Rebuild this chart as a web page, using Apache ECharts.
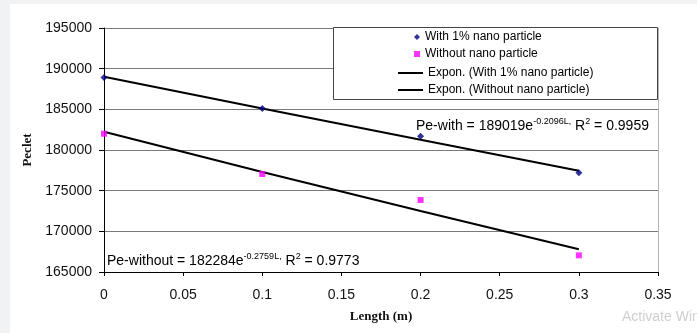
<!DOCTYPE html>
<html>
<head>
<meta charset="utf-8">
<script src="https://cdn.jsdelivr.net/npm/echarts@6/dist/echarts.min.js"></script>
<style>
  html, body { margin: 0; padding: 0; background: #f1f2f4; width: 697px; height: 333px; overflow: hidden; }
  #chart { position: absolute; left: 10px; top: 4px; width: 687px; height: 329px; background: #ffffff; }
</style>
</head>
<body>
<div id="chart"></div>
<script>
const lengths = [0, 0.1, 0.2, 0.3];
const withNano = [188900, 185100, 181700, 177200];
const withoutNano = [182000, 177050, 173850, 167050];
const trendWith = [189000, 185100, 181250, 177450];
const trendWithout = [182250, 177300, 172500, 167800];
const yTicks = { min: 165000, max: 195000, interval: 5000 };
const xTicks = { min: 0, max: 0.35, interval: 0.05 };
const seriesNames = ['With 1% nano particle', 'Without nano particle', 'Expon. (With 1% nano particle)', 'Expon. (Without nano particle)'];
const eqWith = 'Pe-with = 189019e';
const eqWithExp = '-0.2096L,';
const eqWithR = '0.9959';
const eqWithout = 'Pe-without = 182284e';
const eqWithoutExp = '-0.2759L,';
const eqWithoutR = '0.9773';

const pairs = (xs, ys) => xs.map((x, i) => [x, ys[i]]);
const sans = '"Liberation Sans", Arial, sans-serif';
const serif = '"Liberation Serif", "Times New Roman", serif';

const chart = echarts.init(document.getElementById('chart'), null, { renderer: 'canvas' });

function eqText(main, exp, r) {
  return '{n|' + main + '}{s|' + exp + '}{n| R}{s|2}{n| = ' + r + '}';
}
const richStyle = {
  n: { fontSize: 14, fontFamily: sans, color: '#000', lineHeight: 18 },
  s: { fontSize: 9, fontFamily: sans, color: '#000', lineHeight: 10, verticalAlign: 'top' }
};

chart.setOption({
  animation: false,
  backgroundColor: '#ffffff',
  grid: { left: 94, right: 39, top: 24, bottom: 61, containLabel: false },
  xAxis: {
    type: 'value',
    min: xTicks.min, max: xTicks.max, interval: xTicks.interval,
    name: 'Length (m)', nameLocation: 'middle', nameGap: 38,
    nameTextStyle: { fontFamily: serif, fontWeight: 'bold', fontSize: 13, color: '#111' },
    axisLine: { show: true, onZero: false, lineStyle: { color: '#000', width: 1 } },
    axisTick: { show: true, inside: false, length: 4, lineStyle: { color: '#000' } },
    axisLabel: { margin: 16, fontSize: 14, fontFamily: sans, color: '#111' },
    splitLine: { show: false }
  },
  yAxis: [{
    type: 'value',
    min: yTicks.min, max: yTicks.max, interval: yTicks.interval,
    name: 'Peclet', nameLocation: 'middle', nameGap: 63, nameRotate: 90,
    nameTextStyle: { fontFamily: serif, fontWeight: 'bold', fontSize: 13, color: '#111' },
    axisLine: { show: true, lineStyle: { color: '#000', width: 1 } },
    axisTick: { show: true, inside: false, length: 5, lineStyle: { color: '#000' } },
    axisLabel: { margin: 12, fontSize: 14, fontFamily: sans, color: '#111', formatter: v => String(v) },
    splitLine: { show: true, lineStyle: { color: '#7a7a7a', width: 1 } }
  }, {
    type: 'value', position: 'right',
    min: yTicks.min, max: yTicks.max, interval: yTicks.interval,
    axisLine: { show: true, lineStyle: { color: '#b5b5b5', width: 1 } },
    axisTick: { show: false }, axisLabel: { show: false }, splitLine: { show: false }
  }],
  legend: [{
    data: [{ name: seriesNames[0], icon: 'diamond' }, { name: seriesNames[1], icon: 'rect' }],
    orient: 'vertical', left: 404, top: 27, padding: 0,
    itemWidth: 6, itemHeight: 6, itemGap: 5, symbolKeepAspect: true,
    textStyle: { fontSize: 12, fontFamily: sans, color: '#000' },
    selectedMode: false
  }, {
    data: [{ name: seriesNames[2], icon: 'rect' }, { name: seriesNames[3], icon: 'rect' }],
    orient: 'vertical', left: 388, top: 63, padding: 0,
    itemWidth: 25, itemHeight: 2, itemGap: 5, symbolKeepAspect: false,
    textStyle: { fontSize: 12, fontFamily: sans, color: '#000' },
    selectedMode: false
  }],
  graphic: [
    { type: 'rect', z: 3, shape: { x: 323.5, y: 23.5, width: 324, height: 72 },
      style: { fill: '#ffffff', stroke: '#444444', lineWidth: 1 } },
    { type: 'text', z: 5, left: 406, top: 113,
      style: { text: eqText(eqWith, eqWithExp, eqWithR), rich: richStyle } },
    { type: 'text', z: 5, left: 97, top: 248,
      style: { text: eqText(eqWithout, eqWithoutExp, eqWithoutR), rich: richStyle } },
    { type: 'text', z: 5, left: 612, top: 306,
      style: { text: 'Activate Windows', fontSize: 14, fontFamily: sans, fill: '#cfcfcf' } }
  ],
  series: [
    { name: seriesNames[0], type: 'scatter', data: pairs(lengths, withNano),
      symbol: 'diamond', symbolSize: 7, itemStyle: { color: '#000080' }, z: 6 },
    { name: seriesNames[1], type: 'scatter', data: pairs(lengths, withoutNano),
      symbol: 'rect', symbolSize: 6, itemStyle: { color: '#ff00ff' }, z: 6 },
    { name: seriesNames[2], type: 'line', data: pairs(lengths, trendWith),
      showSymbol: false, symbol: 'none', smooth: false,
      lineStyle: { color: '#000', width: 2 }, itemStyle: { color: '#000' }, z: 5 },
    { name: seriesNames[3], type: 'line', data: pairs(lengths, trendWithout),
      showSymbol: false, symbol: 'none', smooth: false,
      lineStyle: { color: '#000', width: 2 }, itemStyle: { color: '#000' }, z: 5 }
  ]
});
</script>
</body>
</html>
